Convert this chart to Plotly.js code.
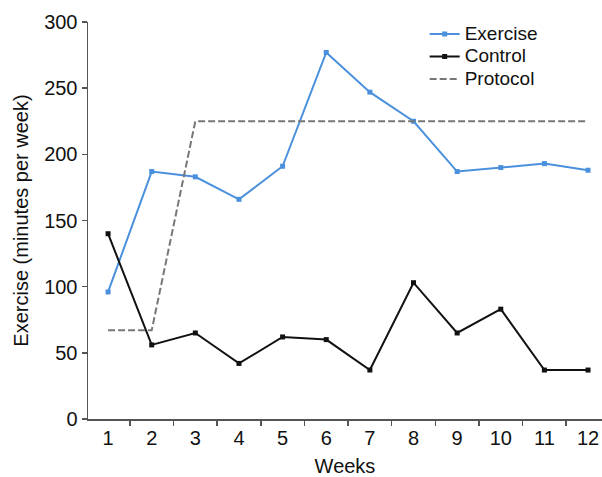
<!DOCTYPE html>
<html>
<head>
<meta charset="utf-8">
<script src="https://cdn.plot.ly/plotly-3.0.1.min.js"></script>
<style>html,body{margin:0;padding:0;background:#fff;}#chart{width:602px;height:477px;}</style>
</head>
<body>
<div id="chart"></div>
<script>
var weeks = ["1","2","3","4","5","6","7","8","9","10","11","12"];
var exerciseGroup = [96, 187, 183, 166, 191, 277, 247, 225, 187, 190, 193, 188];
var controlGroup = [140, 56, 65, 42, 62, 60, 37, 103, 65, 83, 37, 37];
var protocol = [67, 67, 225, 225, 225, 225, 225, 225, 225, 225, 225, 225];
var yTicks = [0, 50, 100, 150, 200, 250, 300];
var seriesNames = ["Exercise", "Control", "Protocol"];

var FONT = "Liberation Sans, Arial, Helvetica, sans-serif";
function legendName(s) { return '<span style="font-size:19px">' + s + '</span>'; }

var traces = [
  {x: weeks, y: exerciseGroup, name: legendName(seriesNames[0]), type: "scatter", mode: "lines+markers",
   line: {color: "#4a90dc", width: 2}, marker: {color: "#4a90dc", size: 5, symbol: "square"}},
  {x: weeks, y: controlGroup, name: legendName(seriesNames[1]), type: "scatter", mode: "lines+markers",
   line: {color: "#111111", width: 2}, marker: {color: "#111111", size: 5, symbol: "square"}},
  {x: weeks, y: protocol, name: legendName(seriesNames[2]), type: "scatter", mode: "lines",
   line: {color: "#777777", width: 2, dash: "7px,3px"}}
];

var layout = {
  width: 602, height: 477,
  margin: {l: 88, r: 0, t: 22, b: 58},
  paper_bgcolor: "#ffffff", plot_bgcolor: "#ffffff",
  font: {family: FONT, size: 20, color: "#111"},
  showlegend: true,
  legend: {x: 0.655, y: 1.011, xanchor: "left", yanchor: "top", bgcolor: "rgba(0,0,0,0)",
           font: {family: FONT, size: 15, color: "#111"}, tracegroupgap: 0},
  xaxis: {type: "category", range: [-0.46, 11.32], tickson: "boundaries",
          ticks: "outside", ticklen: 5, tickcolor: "#555", tickwidth: 1.5,
          showline: true, linecolor: "#555", linewidth: 1.5, showgrid: false, zeroline: false,
          tickfont: {family: FONT, size: 20, color: "#111"},
          title: {text: "Weeks", font: {family: FONT, size: 20, color: "#111"}, standoff: 12}},
  yaxis: {range: [0, 300], tickvals: yTicks, ticks: "outside", ticklen: 5, tickcolor: "#555", tickwidth: 1.5,
          showline: true, linecolor: "#555", linewidth: 1.5, showgrid: false, zeroline: false,
          tickfont: {family: FONT, size: 20, color: "#111"},
          title: {text: "Exercise (minutes per week)", font: {family: FONT, size: 20, color: "#111"}, standoff: 10}}
};

Plotly.newPlot("chart", traces, layout, {displayModeBar: false, staticPlot: true});
</script>
</body>
</html>
